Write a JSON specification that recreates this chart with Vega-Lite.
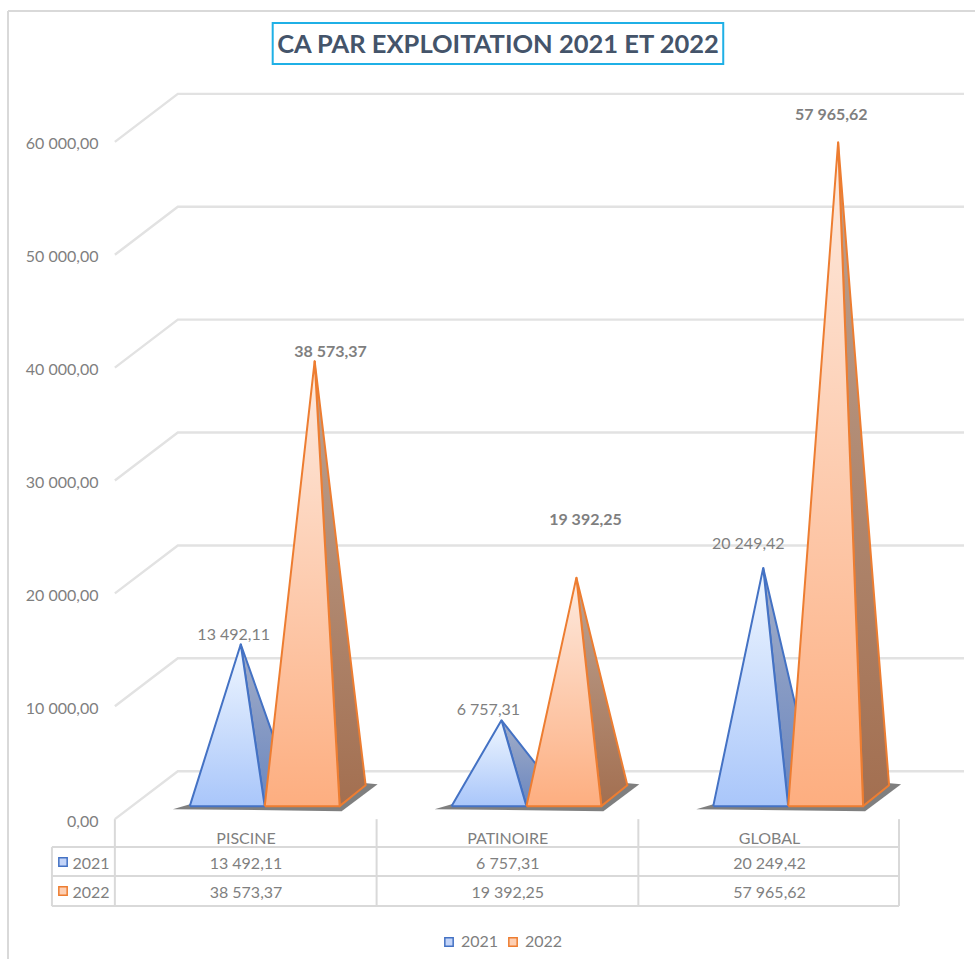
{
"$schema":"https://vega.github.io/schema/vega-lite/v6.json",
"autosize":{"type":"fit","contains":"padding"},
"width":976,"height":960,"padding":0,"background":"white",
"config":{"view":{"stroke":null},"font":"Lato","text":{"font":"Lato"}},
"datasets":{
"vals":[
{"cat":"PISCINE","series":"2021","label":"13 492,11","lx":0.454,"lv":16290},
{"cat":"PATINOIRE","series":"2021","label":"6 757,31","lx":1.427,"lv":9650},
{"cat":"GLOBAL","series":"2021","label":"20 249,42","lx":2.42,"lv":24340},
{"cat":"PISCINE","series":"2022","label":"38 573,37","lx":0.824,"lv":41420},
{"cat":"PATINOIRE","series":"2022","label":"19 392,25","lx":1.798,"lv":26465},
{"cat":"GLOBAL","series":"2022","label":"57 965,62","lx":2.737,"lv":62394}
],
"grid":[
{"level":0,"i":0,"x":0,"v":0},{"level":0,"i":1,"x":0.2405,"v":4248},{"level":0,"i":2,"x":3.2443,"v":4248},
{"level":10000,"i":0,"x":0,"v":10000},{"level":10000,"i":1,"x":0.2405,"v":14248},{"level":10000,"i":2,"x":3.2443,"v":14248},
{"level":20000,"i":0,"x":0,"v":20000},{"level":20000,"i":1,"x":0.2405,"v":24248},{"level":20000,"i":2,"x":3.2443,"v":24248},
{"level":30000,"i":0,"x":0,"v":30000},{"level":30000,"i":1,"x":0.2405,"v":34248},{"level":30000,"i":2,"x":3.2443,"v":34248},
{"level":40000,"i":0,"x":0,"v":40000},{"level":40000,"i":1,"x":0.2405,"v":44248},{"level":40000,"i":2,"x":3.2443,"v":44248},
{"level":50000,"i":0,"x":0,"v":50000},{"level":50000,"i":1,"x":0.2405,"v":54248},{"level":50000,"i":2,"x":3.2443,"v":54248},
{"level":60000,"i":0,"x":0,"v":60000},{"level":60000,"i":1,"x":0.2405,"v":64248},{"level":60000,"i":2,"x":3.2443,"v":64248}
],
"rules":[
{"x":-0.4084,"x2":3.2863,"v":71593,"v2":71593},
{"x":-0.4084,"x2":-0.4084,"v":71593,"v2":-12389},
{"x":-0.2405,"x2":-0.2405,"v":-2478,"v2":-7699},
{"x":0,"x2":0,"v":0,"v2":-7699},
{"x":1,"x2":1,"v":0,"v2":-7699},
{"x":2,"x2":2,"v":0,"v2":-7699},
{"x":2.996,"x2":2.996,"v":0,"v2":-7699},
{"x":-0.2405,"x2":2.996,"v":-2478,"v2":-2478},
{"x":-0.2405,"x2":2.996,"v":-5044,"v2":-5044},
{"x":-0.2405,"x2":2.996,"v":-7699,"v2":-7699}
],
"shadow":[
{"cat":"PISCINE","i":0,"x":0.2176,"v":-1115},{"cat":"PISCINE","i":1,"x":0.8626,"v":-1292},{"cat":"PISCINE","i":2,"x":1.0,"v":1097},{"cat":"PISCINE","i":3,"x":0.916,"v":1274},{"cat":"PISCINE","i":4,"x":0.2863,"v":-655},
{"cat":"PATINOIRE","i":0,"x":1.2176,"v":-1115},{"cat":"PATINOIRE","i":1,"x":1.8626,"v":-1292},{"cat":"PATINOIRE","i":2,"x":2.0,"v":1097},{"cat":"PATINOIRE","i":3,"x":1.916,"v":1274},{"cat":"PATINOIRE","i":4,"x":1.2863,"v":-655},
{"cat":"GLOBAL","i":0,"x":2.2176,"v":-1115},{"cat":"GLOBAL","i":1,"x":2.8626,"v":-1292},{"cat":"GLOBAL","i":2,"x":3.0,"v":1097},{"cat":"GLOBAL","i":3,"x":2.916,"v":1274},{"cat":"GLOBAL","i":4,"x":2.2863,"v":-655}
],
"side21":[
{"cat":"PISCINE","i":0,"x":0.4771,"v":13492.11},{"cat":"PISCINE","i":1,"x":0.5687,"v":-850},{"cat":"PISCINE","i":2,"x":0.6679,"v":1009},{"cat":"PISCINE","i":3,"x":0.4771,"v":13492.11},
{"cat":"PATINOIRE","i":0,"x":1.4733,"v":6757.31},{"cat":"PATINOIRE","i":1,"x":1.5687,"v":-850},{"cat":"PATINOIRE","i":2,"x":1.6679,"v":1009},{"cat":"PATINOIRE","i":3,"x":1.4733,"v":6757.31},
{"cat":"GLOBAL","i":0,"x":2.4733,"v":20249.42},{"cat":"GLOBAL","i":1,"x":2.5687,"v":-850},{"cat":"GLOBAL","i":2,"x":2.6679,"v":1009},{"cat":"GLOBAL","i":3,"x":2.4733,"v":20249.42}
],
"front21":[
{"cat":"PISCINE","i":0,"x":0.2824,"v":-850},{"cat":"PISCINE","i":1,"x":0.4771,"v":13492.11},{"cat":"PISCINE","i":2,"x":0.5687,"v":-850},{"cat":"PISCINE","i":3,"x":0.2824,"v":-850},
{"cat":"PATINOIRE","i":0,"x":1.2824,"v":-850},{"cat":"PATINOIRE","i":1,"x":1.4733,"v":6757.31},{"cat":"PATINOIRE","i":2,"x":1.5687,"v":-850},{"cat":"PATINOIRE","i":3,"x":1.2824,"v":-850},
{"cat":"GLOBAL","i":0,"x":2.2824,"v":-850},{"cat":"GLOBAL","i":1,"x":2.4733,"v":20249.42},{"cat":"GLOBAL","i":2,"x":2.5687,"v":-850},{"cat":"GLOBAL","i":3,"x":2.2824,"v":-850}
],
"side22":[
{"cat":"PISCINE","i":0,"x":0.7595,"v":38573.37},{"cat":"PISCINE","i":1,"x":0.855,"v":-850},{"cat":"PISCINE","i":2,"x":0.9542,"v":1009},{"cat":"PISCINE","i":3,"x":0.7595,"v":38573.37},
{"cat":"PATINOIRE","i":0,"x":1.7595,"v":19392.25},{"cat":"PATINOIRE","i":1,"x":1.855,"v":-850},{"cat":"PATINOIRE","i":2,"x":1.9542,"v":1009},{"cat":"PATINOIRE","i":3,"x":1.7595,"v":19392.25},
{"cat":"GLOBAL","i":0,"x":2.7595,"v":57965.62},{"cat":"GLOBAL","i":1,"x":2.855,"v":-850},{"cat":"GLOBAL","i":2,"x":2.9542,"v":1009},{"cat":"GLOBAL","i":3,"x":2.7595,"v":57965.62}
],
"front22":[
{"cat":"PISCINE","i":0,"x":0.5687,"v":-850},{"cat":"PISCINE","i":1,"x":0.7595,"v":38573.37},{"cat":"PISCINE","i":2,"x":0.855,"v":-850},{"cat":"PISCINE","i":3,"x":0.5687,"v":-850},
{"cat":"PATINOIRE","i":0,"x":1.5687,"v":-850},{"cat":"PATINOIRE","i":1,"x":1.7595,"v":19392.25},{"cat":"PATINOIRE","i":2,"x":1.855,"v":-850},{"cat":"PATINOIRE","i":3,"x":1.5687,"v":-850},
{"cat":"GLOBAL","i":0,"x":2.5687,"v":-850},{"cat":"GLOBAL","i":1,"x":2.7595,"v":57965.62},{"cat":"GLOBAL","i":2,"x":2.855,"v":-850},{"cat":"GLOBAL","i":3,"x":2.5687,"v":-850}
]
},
"resolve":{"scale":{"x":"independent","y":"independent"},"axis":{"x":"independent","y":"independent"}},
"layer":[
{
"encoding":{
"x":{"field":"x","type":"quantitative","axis":null,"scale":{"domain":[-0.4389,3.2863],"nice":false,"zero":false}},
"y":{"field":"v","type":"quantitative","title":null,"scale":{"domain":[-12389,72566],"nice":false,"zero":false},
"axis":{"offset":-98,"values":[0,10000,20000,30000,40000,50000,60000],"domain":false,"ticks":false,"grid":false,"labelPadding":0,"labelOffset":2,"labelFont":"Lato","labelFontSize":16,"labelColor":"#7f7f7f","labelExpr":"replace(replace(format(datum.value,',.2f'),/,/g,' '),'.',',')"}}
},
"layer":[
{"data":{"name":"rules"},"mark":{"type":"rule","color":"#d9d9d9","strokeWidth":2},"encoding":{"x2":{"field":"x2"},"y2":{"field":"v2"}}},
{"data":{"name":"grid"},"mark":{"type":"line","color":"#e2e2e2","strokeWidth":2.4,"strokeJoin":"miter"},"encoding":{"detail":{"field":"level"},"order":{"field":"i"}}},
{"data":{"name":"shadow"},"mark":{"type":"line","fill":"#3a3a3a","fillOpacity":0.65,"strokeWidth":0,"xOffset":1,"yOffset":-22.6},"encoding":{"detail":{"field":"cat"},"order":{"field":"i"}}},
{"data":{"name":"side21"},"mark":{"type":"line","stroke":"#4472c4","strokeWidth":2,"strokeJoin":"round","xOffset":1,"yOffset":-22.6,"fill":{"gradient":"linear","x1":0,"y1":0,"x2":0,"y2":1,"stops":[{"offset":0,"color":"#a3aec8"},{"offset":1,"color":"#6a86bf"}]}},"encoding":{"detail":{"field":"cat"},"order":{"field":"i"}}},
{"data":{"name":"front21"},"mark":{"type":"line","stroke":"#4472c4","strokeWidth":2,"strokeJoin":"round","xOffset":1,"yOffset":-22.6,"fill":{"gradient":"linear","x1":0,"y1":0,"x2":0,"y2":1,"stops":[{"offset":0,"color":"#f0f7ff"},{"offset":1,"color":"#a9c6fa"}]}},"encoding":{"detail":{"field":"cat"},"order":{"field":"i"}}},
{"data":{"name":"side22"},"mark":{"type":"line","stroke":"#ed7d31","strokeWidth":2,"strokeJoin":"round","xOffset":1,"yOffset":-22.6,"fill":{"gradient":"linear","x1":0,"y1":0,"x2":0,"y2":1,"stops":[{"offset":0,"color":"#bda393"},{"offset":1,"color":"#a36f50"}]}},"encoding":{"detail":{"field":"cat"},"order":{"field":"i"}}},
{"data":{"name":"front22"},"mark":{"type":"line","stroke":"#ed7d31","strokeWidth":2,"strokeJoin":"round","xOffset":1,"yOffset":-22.6,"fill":{"gradient":"linear","x1":0,"y1":0,"x2":0,"y2":1,"stops":[{"offset":0,"color":"#fdeadf"},{"offset":1,"color":"#fdae80"}]}},"encoding":{"detail":{"field":"cat"},"order":{"field":"i"}}},
{"data":{"name":"vals"},"transform":[{"filter":"datum.series=='2021'"}],"mark":{"type":"text","fontSize":16,"color":"#7f7f7f"},"encoding":{"x":{"field":"lx"},"y":{"field":"lv"},"text":{"field":"label"}}},
{"data":{"name":"vals"},"transform":[{"filter":"datum.series=='2022'"}],"mark":{"type":"text","fontSize":16,"fontWeight":"bold","color":"#7f7f7f"},"encoding":{"x":{"field":"lx"},"y":{"field":"lv"},"text":{"field":"label"}}},
{"data":{"values":[{"x":0.603,"x2":2.3244,"v":70531,"v2":66903}]},"mark":{"type":"rect","fill":"white","stroke":"#1fb0e6","strokeWidth":2},"encoding":{"x2":{"field":"x2"},"y2":{"field":"v2"}}},
{"data":{"values":[{"x":1.4637,"v":68580,"t":"CA PAR EXPLOITATION 2021 ET 2022"}]},"mark":{"type":"text","fontSize":25.5,"fontWeight":"bold","color":"#44546a"},"encoding":{"text":{"field":"t"}}}
]
},
{
"encoding":{
"x":{"field":"cat","type":"nominal","axis":null,"sort":null,"scale":{"type":"point","padding":0,"domain":["PISCINE","PATINOIRE","GLOBAL"],"range":[246,769.5]}},
"y":{"field":"series","type":"nominal","axis":null,"scale":{"type":"point","padding":0,"domain":["header","2021","2022"],"range":[835,893]}}
},
"layer":[
{"data":{"name":"vals"},"mark":{"type":"text","fontSize":16,"color":"#7f7f7f"},"encoding":{"text":{"field":"label"}}},
{"data":{"values":[{"cat":"PISCINE"},{"cat":"PATINOIRE"},{"cat":"GLOBAL"}]},"mark":{"type":"text","fontSize":16,"color":"#7f7f7f","dy":4},"encoding":{"y":{"datum":"header"},"text":{"field":"cat"}}}
]
},
{
"data":{"values":[{"series":"2021"},{"series":"2022"}]},
"encoding":{
"y":{"field":"series","type":"nominal","axis":null,"scale":{"type":"point","padding":0,"domain":["header","2021","2022"],"range":[835,893]}}
},
"layer":[
{"mark":{"type":"point","shape":"square","filled":true,"size":70,"strokeWidth":1.5,"strokeOpacity":1,"opacity":1,"yOffset":-2},
"encoding":{"x":{"datum":"swatch","type":"nominal","axis":null,"scale":{"type":"point","padding":0,"domain":["swatch","key"],"range":[63,91]}},
"fill":{"field":"series","type":"nominal","scale":{"domain":["2021","2022"],"range":["#c3d4f8","#fdcfb3"]},"legend":{"orient":"none","legendX":441,"legendY":934,"direction":"horizontal","title":null,"symbolType":"square","symbolSize":70,"symbolStrokeWidth":1.5,"labelFont":"Lato","labelFontSize":16,"labelColor":"#7f7f7f","padding":0,"columnPadding":6,"labelOffset":4}},
"stroke":{"field":"series","type":"nominal","scale":{"domain":["2021","2022"],"range":["#4472c4","#ed7d31"]}}}},
{"mark":{"type":"text","fontSize":16,"color":"#7f7f7f"},"encoding":{"x":{"datum":"key","type":"nominal","axis":null,"scale":{"type":"point","padding":0,"domain":["swatch","key"],"range":[63,91]}},"text":{"field":"series"}}}
]
}
]
}
